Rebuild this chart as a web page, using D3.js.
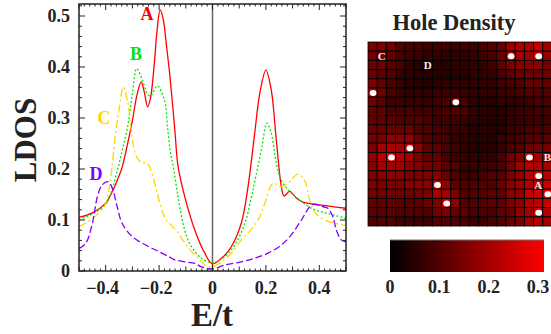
<!DOCTYPE html>
<html><head><meta charset="utf-8">
<script src="https://cdn.jsdelivr.net/npm/d3@7"></script>
<style>body{margin:0;background:#fff}svg{display:block}text{font-family:"Liberation Serif","Times New Roman",serif;font-weight:bold}</style>
</head><body>
<svg id="c" width="551" height="334"></svg>
<script>
// ---------- data ----------
const curveA = [[-0.5,0.105],[-0.45,0.114],[-0.4,0.133],[-0.376,0.155],[-0.355,0.18],[-0.338,0.204],[-0.32,0.245],[-0.3,0.295],[-0.283,0.345],[-0.267,0.371],[-0.255,0.35],[-0.243,0.322],[-0.232,0.34],[-0.219,0.40],[-0.207,0.475],[-0.196,0.512],[-0.185,0.495],[-0.172,0.44],[-0.16,0.385],[-0.141,0.276],[-0.129,0.205],[-0.104,0.146],[-0.066,0.08],[-0.029,0.035],[0,0.014],[0.04,0.028],[0.071,0.048],[0.108,0.094],[0.133,0.165],[0.158,0.27],[0.177,0.348],[0.2,0.394],[0.22,0.355],[0.239,0.257],[0.258,0.165],[0.268,0.147],[0.289,0.156],[0.314,0.143],[0.339,0.135],[0.407,0.129],[0.5,0.123]];
const curveB = [[-0.5,0.1],[-0.45,0.112],[-0.4,0.13],[-0.376,0.16],[-0.355,0.2],[-0.338,0.237],[-0.319,0.28],[-0.3,0.348],[-0.284,0.397],[-0.263,0.375],[-0.244,0.348],[-0.232,0.343],[-0.207,0.363],[-0.18,0.335],[-0.168,0.28],[-0.158,0.235],[-0.147,0.205],[-0.129,0.146],[-0.104,0.08],[-0.079,0.048],[-0.041,0.025],[0,0.016],[0.046,0.028],[0.083,0.051],[0.121,0.093],[0.146,0.146],[0.158,0.175],[0.183,0.237],[0.204,0.29],[0.22,0.27],[0.239,0.211],[0.258,0.178],[0.283,0.159],[0.32,0.142],[0.37,0.123],[0.432,0.113],[0.5,0.103]];
const curveC = [[-0.5,0.087],[-0.45,0.103],[-0.406,0.126],[-0.388,0.159],[-0.375,0.211],[-0.363,0.27],[-0.35,0.316],[-0.334,0.361],[-0.319,0.335],[-0.306,0.283],[-0.296,0.245],[-0.282,0.222],[-0.269,0.213],[-0.244,0.211],[-0.226,0.19],[-0.205,0.148],[-0.188,0.118],[-0.172,0.099],[-0.155,0.09],[-0.135,0.079],[-0.11,0.06],[-0.085,0.042],[-0.055,0.026],[-0.029,0.012],[0,0.008],[0.034,0.018],[0.071,0.035],[0.108,0.061],[0.146,0.082],[0.175,0.105],[0.196,0.133],[0.227,0.172],[0.258,0.165],[0.283,0.172],[0.32,0.19],[0.345,0.178],[0.364,0.139],[0.382,0.116],[0.42,0.1],[0.5,0.089]];
const curveD = [[-0.5,0.044],[-0.475,0.054],[-0.45,0.093],[-0.431,0.146],[-0.413,0.169],[-0.39,0.175],[-0.375,0.162],[-0.357,0.126],[-0.338,0.093],[-0.3,0.067],[-0.25,0.051],[-0.201,0.038],[-0.163,0.028],[-0.141,0.022],[-0.104,0.018],[-0.066,0.015],[-0.041,0.008],[0,0.004],[0.046,0.012],[0.108,0.018],[0.158,0.025],[0.208,0.035],[0.258,0.051],[0.295,0.071],[0.333,0.1],[0.364,0.126],[0.382,0.131],[0.407,0.127],[0.432,0.123],[0.451,0.106],[0.464,0.08],[0.482,0.061],[0.5,0.057]];
const curveNames = ["A","B","C","D"];
const curveColors = ["#ff0000","#00e800","#ffd500","#8000ff"];
const xTickLabels = [-0.4,-0.2,0,0.2,0.4];
const yTickLabels = [0,0.1,0.2,0.3,0.4,0.5];
const cbTickLabels = [0,0.1,0.2,0.3];

const heatRows = [
[0.15,0.15,0.14,0.1,0.09,0.09,0.08,0.08,0.08,0.08,0.08,0.08,0.09,0.1,0.13,0.19,0.21,0.21,0.24,0.2],
[0.14,0.14,0.12,0.09,0.08,0.07,0.06,0.06,0.06,0.06,0.06,0.07,0.08,0.09,0.13,0.22,0.2,0.2,0.24,0.18],
[0.13,0.13,0.1,0.09,0.06,0.05,0.05,0.05,0.05,0.06,0.06,0.06,0.06,0.08,0.12,0.15,0.16,0.16,0.17,0.14],
[0.13,0.11,0.1,0.07,0.06,0.05,0.05,0.05,0.05,0.05,0.05,0.06,0.06,0.06,0.09,0.11,0.13,0.13,0.13,0.13],
[0.15,0.12,0.09,0.07,0.05,0.05,0.05,0.05,0.06,0.06,0.06,0.06,0.06,0.06,0.08,0.09,0.1,0.12,0.12,0.12],
[0.2,0.13,0.09,0.07,0.06,0.06,0.06,0.07,0.07,0.08,0.07,0.06,0.06,0.06,0.07,0.08,0.09,0.1,0.1,0.1],
[0.14,0.11,0.08,0.08,0.07,0.07,0.07,0.08,0.09,0.13,0.09,0.06,0.05,0.05,0.06,0.06,0.07,0.08,0.09,0.09],
[0.12,0.12,0.09,0.09,0.09,0.08,0.08,0.08,0.09,0.1,0.09,0.06,0.05,0.05,0.05,0.06,0.07,0.08,0.08,0.08],
[0.12,0.12,0.11,0.1,0.1,0.1,0.09,0.08,0.08,0.08,0.07,0.06,0.05,0.05,0.05,0.06,0.07,0.08,0.08,0.08],
[0.13,0.13,0.13,0.13,0.13,0.1,0.1,0.09,0.08,0.08,0.07,0.05,0.05,0.05,0.05,0.07,0.08,0.09,0.09,0.09],
[0.14,0.15,0.17,0.17,0.18,0.13,0.1,0.09,0.09,0.07,0.06,0.05,0.05,0.05,0.07,0.08,0.09,0.11,0.11,0.11],
[0.15,0.2,0.21,0.21,0.25,0.17,0.12,0.11,0.09,0.08,0.06,0.05,0.05,0.05,0.07,0.09,0.1,0.13,0.14,0.14],
[0.18,0.22,0.27,0.22,0.2,0.15,0.12,0.12,0.09,0.08,0.07,0.06,0.06,0.06,0.09,0.14,0.16,0.23,0.2,0.18],
[0.16,0.2,0.2,0.2,0.17,0.16,0.14,0.14,0.11,0.1,0.07,0.07,0.07,0.08,0.09,0.14,0.19,0.22,0.22,0.2],
[0.15,0.17,0.17,0.17,0.15,0.15,0.15,0.16,0.13,0.1,0.08,0.08,0.09,0.1,0.11,0.15,0.17,0.22,0.27,0.22],
[0.15,0.15,0.15,0.15,0.17,0.17,0.17,0.25,0.18,0.12,0.1,0.1,0.1,0.1,0.13,0.17,0.19,0.22,0.25,0.24],
[0.14,0.14,0.14,0.14,0.14,0.14,0.15,0.2,0.2,0.15,0.1,0.1,0.1,0.12,0.12,0.17,0.18,0.24,0.25,0.28],
[0.12,0.12,0.12,0.11,0.11,0.11,0.13,0.15,0.23,0.17,0.1,0.1,0.1,0.11,0.11,0.15,0.17,0.22,0.23,0.24],
[0.11,0.11,0.11,0.1,0.1,0.1,0.1,0.14,0.15,0.12,0.11,0.09,0.09,0.09,0.12,0.13,0.18,0.2,0.25,0.22],
[0.1,0.1,0.1,0.08,0.08,0.08,0.08,0.1,0.1,0.1,0.09,0.08,0.08,0.09,0.1,0.13,0.15,0.2,0.22,0.2]
];
const holeCols = [15,18,0,9,4,2,17,18,7,19,8,18];
const holeRows = [1,1,5,6,11,12,12,14,15,16,17,18];
const siteLabels = ["C","D","B","A"];
const siteCols = [1,6,19,18];
const siteRows = [1,2,12,15];

// ---------- main plot ----------
const svg = d3.select("#c");
const L=79, R=346, T=4, B=271;
const x = d3.scaleLinear().domain([-0.5,0.5]).range([L,R]);
const y = d3.scaleLinear().domain([0,0.5]).range([B,B-255]);

const g = svg.append("g");
svg.append("defs").append("clipPath").attr("id","pc").append("rect").attr("x",L).attr("y",T).attr("width",R-L).attr("height",B-T);

g.append("line").attr("x1",x(0)).attr("x2",x(0)).attr("y1",T).attr("y2",B).attr("stroke","#666").attr("stroke-width",1.5);

const line = d3.line().x(d=>x(d[0])).y(d=>y(d[1])).curve(d3.curveCatmullRom.alpha(0.5));
const curves=[curveA,curveB,curveC,curveD];
const dashes=[null,"2,2","8,3,2,3","7,3"];
const cg = g.append("g").attr("clip-path","url(#pc)");
curves.forEach((c,i)=>{
  cg.append("path").attr("d",line(c)).attr("fill","none").attr("stroke",curveColors[i]).attr("stroke-width",1.3).attr("stroke-dasharray",dashes[i]);
});

g.append("rect").attr("x",L).attr("y",T).attr("width",R-L).attr("height",B-T).attr("fill","none").attr("stroke","#222").attr("stroke-width",1.5);

const xMinor = d3.range(-50,51,2).map(v=>v/100);
xMinor.forEach(v=>{
  const k=Math.round(v*100);
  const len = (k%20===0)?6:(k%10===0?4.5:2.5);
  g.append("line").attr("x1",x(v)).attr("x2",x(v)).attr("y1",B).attr("y2",B-len).attr("stroke","#222");
  g.append("line").attr("x1",x(v)).attr("x2",x(v)).attr("y1",T).attr("y2",T+len).attr("stroke","#222");
});
const yMinor = d3.range(0,53,2).map(v=>v/100);
yMinor.forEach(v=>{
  const k=Math.round(v*100);
  const len = (k%10===0)?6:3;
  g.append("line").attr("x1",L).attr("x2",L+len).attr("y1",y(v)).attr("y2",y(v)).attr("stroke","#222");
  g.append("line").attr("x1",R).attr("x2",R-len).attr("y1",y(v)).attr("y2",y(v)).attr("stroke","#222");
});

const fmt = v=> v===0?"0":(v<0?"\u2212":"")+Math.abs(v).toFixed(1);
g.selectAll(".xl").data(xTickLabels).enter().append("text").attr("x",d=>x(d)-(d<0?3:0)).attr("y",294)
 .attr("text-anchor","middle").attr("font-size",18).attr("fill","#222").text(fmt);
g.selectAll(".yl").data(yTickLabels).enter().append("text").attr("x",70).attr("y",d=>y(d)+6)
 .attr("text-anchor","end").attr("font-size",18).attr("fill","#222").text(fmt);

g.append("text").attr("transform","translate(36,140) rotate(-90)").attr("text-anchor","middle").attr("font-size",31).attr("fill","#222").text("LDOS");
g.append("text").attr("x",212).attr("y",326).attr("text-anchor","middle").attr("font-size",33).attr("fill","#222").text("E/t");

const lblPos=[[147,20],[136,60],[104,124],[96,180]];
curveNames.forEach((n,i)=>{
  g.append("text").attr("x",lblPos[i][0]).attr("y",lblPos[i][1]).attr("text-anchor","middle").attr("font-size",18).attr("fill",curveColors[i]).text(n);
});

// ---------- heatmap ----------
const hg = svg.append("g");
const cells = d3.range(20);
const hx = d3.scaleBand().domain(cells).range([368,552]);
const hy = d3.scaleBand().domain(cells).range([42,226]);
const cmax = 0.312;
const col = d3.scaleLinear().domain([0,cmax]).range(["#000000","#ff0000"]).clamp(true);
heatRows.forEach((row,r)=>{
  row.forEach((v,c)=>{
    hg.append("rect").attr("x",hx(c)).attr("y",hy(r)).attr("width",hx.bandwidth()).attr("height",hy.bandwidth())
      .attr("fill",col(v)).attr("stroke","#000").attr("stroke-width",0.9);
  });
});
hg.append("line").attr("x1",367.5).attr("x2",367.5).attr("y1",42).attr("y2",226).attr("stroke","#999");
hg.append("line").attr("x1",368).attr("x2",551).attr("y1",41.5).attr("y2",41.5).attr("stroke","#999");
holeCols.forEach((c,i)=>{
  hg.append("ellipse").attr("cx",hx(c)+hx.bandwidth()/2+0.5).attr("cy",hy(holeRows[i])+hy.bandwidth()/2+0.5).attr("rx",3.4).attr("ry",3).attr("fill","#fff");
});
siteLabels.forEach((s,i)=>{
  hg.append("text").attr("x",hx(siteCols[i])+hx.bandwidth()/2).attr("y",hy(siteRows[i])+hy.bandwidth()/2+4)
    .attr("text-anchor","middle").attr("font-size",11).attr("fill","#eee").text(s);
});
svg.append("text").attr("x",454).attr("y",30).attr("text-anchor","middle").attr("font-size",22.5).attr("fill","#222").text("Hole Density");

const cbx = d3.scaleLinear().domain([0,cmax]).range([390,544]);
const grad = svg.select("defs").append("linearGradient").attr("id","cbg");
grad.append("stop").attr("offset","0%").attr("stop-color","#000");
grad.append("stop").attr("offset","100%").attr("stop-color","#ff0000");
svg.append("rect").attr("x",cbx(0)).attr("y",240).attr("width",cbx(cmax)-cbx(0)).attr("height",32).attr("fill","url(#cbg)");
svg.append("line").attr("x1",cbx(0)).attr("x2",cbx(cmax)).attr("y1",240).attr("y2",240).attr("stroke","#777");
svg.selectAll(".cbl").data(cbTickLabels).enter().append("text").attr("x",d=>cbx(d)).attr("y",293)
 .attr("text-anchor","middle").attr("font-size",18).attr("fill","#222").text(fmt);
</script>
</body></html>
